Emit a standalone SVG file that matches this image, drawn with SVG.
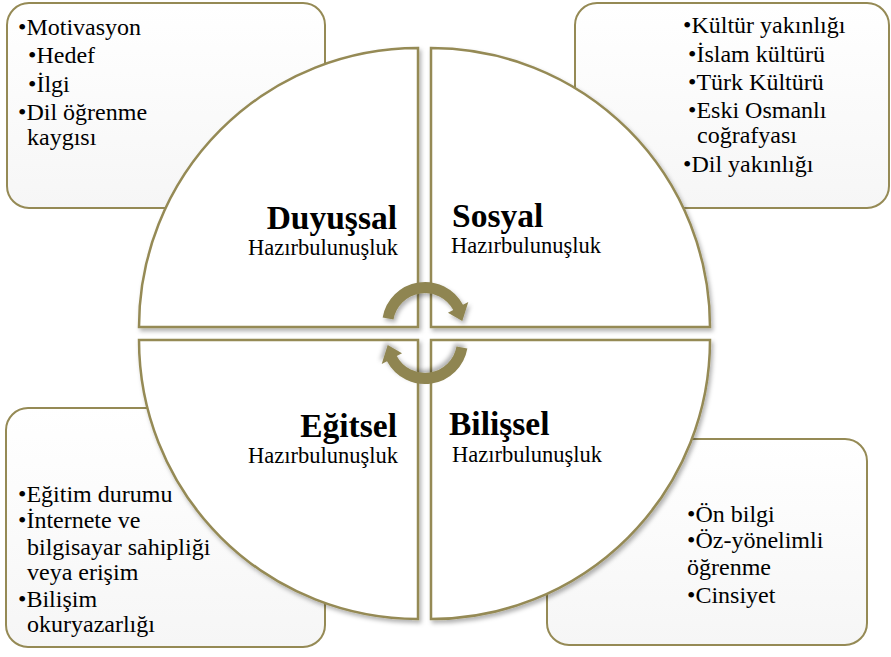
<svg xmlns="http://www.w3.org/2000/svg" width="891" height="657" viewBox="0 0 891 657">
<defs>
<linearGradient id="boxfill" x1="0" y1="0" x2="0" y2="1">
<stop offset="0" stop-color="#ffffff"/>
<stop offset="1" stop-color="#f6f6f6"/>
</linearGradient>
<filter id="shadow" x="-10%" y="-10%" width="130%" height="130%">
<feDropShadow dx="2" dy="3" stdDeviation="2" flood-color="#000" flood-opacity="0.3"/>
</filter>
<path id="arrowShape" d="M382.65,317.5 A43,43 0 0 1 462.97,304.8 L468.3,302 L462.3,321.1 L447.96,312.8 L453.25,309.98 A32,32 0 0 0 393.5,319.4 Z"/>
</defs>
<style>
.box{fill:url(#boxfill);stroke:#958a55;stroke-width:2}
.quad{fill:#ffffff;stroke:#958a55;stroke-width:2.5;filter:url(#shadow)}
.arrow{fill:#8f8551;filter:url(#shadow)}
.item{font-size:24px}
.title{font-size:33.5px;font-weight:bold}
.sub{font-size:22.5px}
</style>
<rect width="891" height="657" fill="#ffffff"/>
<g font-family="Liberation Serif, Times New Roman, serif" fill="#000000">

<g id="box-duyussal">
<rect class="box" x="7" y="3" width="318" height="205" rx="22"/>
<text class="item" x="18" y="35">•Motivasyon</text>
<text class="item" x="28" y="63">•Hedef</text>
<text class="item" x="28" y="92">•İlgi</text>
<text class="item" x="18" y="120">•Dil öğrenme</text>
<text class="item" x="27" y="145">kaygısı</text>
</g>

<g id="box-sosyal">
<rect class="box" x="575" y="3" width="314" height="205" rx="22"/>
<text class="item" x="683" y="33">•Kültür yakınlığı</text>
<text class="item" x="688" y="62">•İslam kültürü</text>
<text class="item" x="688" y="90">•Türk Kültürü</text>
<text class="item" x="688" y="118">•Eski Osmanlı</text>
<text class="item" x="697" y="143">coğrafyası</text>
<text class="item" x="683" y="172">•Dil yakınlığı</text>
</g>

<g id="box-egitsel">
<rect class="box" x="6" y="408" width="319" height="239" rx="22"/>
<text class="item" x="18" y="502">•Eğitim durumu</text>
<text class="item" x="18" y="528">•İnternete ve</text>
<text class="item" x="27" y="555">bilgisayar sahipliği</text>
<text class="item" x="27" y="580">veya erişim</text>
<text class="item" x="18" y="607">•Bilişim</text>
<text class="item" x="27" y="632">okuryazarlığı</text>
</g>

<g id="box-bilissel">
<rect class="box" x="547" y="439" width="320" height="206" rx="22"/>
<text class="item" x="687" y="522">•Ön bilgi</text>
<text class="item" x="687" y="548">•Öz-yönelimli</text>
<text class="item" x="687" y="575">öğrenme</text>
<text class="item" x="687" y="603">•Cinsiyet</text>
</g>

<g id="quad-duyussal">
<path class="quad" d="M418,327 L139,327 A279,279 0 0 1 418,48 Z"/>
<text class="title" x="397" y="229" text-anchor="end">Duyuşsal</text>
<text class="sub" x="398" y="255" text-anchor="end">Hazırbulunuşluk</text>
</g>

<g id="quad-sosyal">
<path class="quad" d="M431,327 L431,48 A279,279 0 0 1 710,327 Z"/>
<text class="title" x="452" y="227">Sosyal</text>
<text class="sub" x="451" y="253">Hazırbulunuşluk</text>
</g>

<g id="quad-egitsel">
<path class="quad" d="M418,340 L418,619 A279,279 0 0 1 139,340 Z"/>
<text class="title" x="397" y="437" text-anchor="end">Eğitsel</text>
<text class="sub" x="398" y="463" text-anchor="end">Hazırbulunuşluk</text>
</g>

<g id="quad-bilissel">
<path class="quad" d="M431,340 L710,340 A279,279 0 0 1 431,619 Z"/>
<text class="title" x="449" y="435">Bilişsel</text>
<text class="sub" x="452" y="462">Hazırbulunuşluk</text>
</g>

</g>

<g id="connectors">
<use href="#arrowShape" class="arrow"/>
<use href="#arrowShape" class="arrow" transform="rotate(180 425 333)"/>
</g>
</svg>
